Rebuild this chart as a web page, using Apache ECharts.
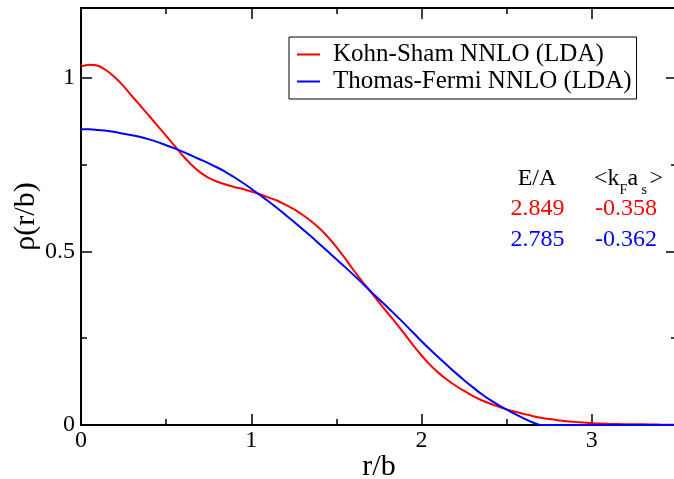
<!DOCTYPE html>
<html>
<head>
<meta charset="utf-8">
<script src="https://cdn.jsdelivr.net/npm/echarts@6/dist/echarts.min.js"></script>
<style>
html,body{margin:0;padding:0;background:#fff;}
#chart{width:674px;height:479px;}
</style>
</head>
<body>
<div id="chart"></div>
<script>
// r/b sample positions
var rGrid = [0.00,0.05,0.10,0.15,0.20,0.25,0.30,0.35,0.40,0.45,
             0.50,0.55,0.60,0.65,0.70,0.75,0.80,0.85,0.90,0.95,
             1.00,1.05,1.10,1.15,1.20,1.25,1.30,1.35,1.40,1.45,
             1.50,1.55,1.60,1.65,1.70,1.75,1.80,1.85,1.90,1.95,
             2.00,2.05,2.10,2.15,2.20,2.25,2.30,2.35,2.40,2.45,
             2.50,2.55,2.60,2.65,2.70,2.75,2.80,2.85,2.90,2.95,
             3.00,3.10,3.20,3.30,3.40,3.50];
// Kohn-Sham NNLO (LDA)
var ksDensity = [1.032,1.037,1.034,1.020,1.000,0.975,0.946,0.918,0.890,0.861,
                 0.832,0.803,0.774,0.748,0.727,0.711,0.700,0.692,0.685,0.679,
                 0.672,0.664,0.655,0.646,0.634,0.621,0.605,0.587,0.566,0.541,
                 0.512,0.480,0.446,0.414,0.384,0.353,0.323,0.293,0.262,0.230,
                 0.200,0.173,0.150,0.130,0.113,0.098,0.084,0.072,0.062,0.053,
                 0.045,0.038,0.032,0.026,0.021,0.017,0.014,0.011,0.009,0.007,
                 0.005,0.0035,0.0025,0.0018,0.0012,0.0008];
// Thomas-Fermi NNLO (LDA)
var tfDensity = [0.851,0.851,0.849,0.847,0.843,0.838,0.834,0.829,0.822,0.814,
                 0.805,0.796,0.786,0.775,0.764,0.753,0.741,0.728,0.713,0.697,
                 0.680,0.662,0.644,0.625,0.605,0.585,0.564,0.543,0.521,0.499,
                 0.477,0.455,0.432,0.409,0.385,0.362,0.339,0.315,0.291,0.266,
                 0.241,0.217,0.194,0.172,0.150,0.129,0.109,0.090,0.073,0.058,
                 0.044,0.031,0.019,0.008,0.000,0.000,0.000,0.000,0.000,0.000,
                 0.000,0.000,0.000,0.000,0.000,0.000];
var seriesNames = ['Kohn-Sham NNLO (LDA)', 'Thomas-Fermi NNLO (LDA)'];
var seriesColors = ['#ff0000', '#0000ff'];
// annotation table
var tableHeader = ['E/A'];
var energyPerParticle = ['2.849', '2.785'];
var kfasValues = ['-0.358', '-0.362'];

function pairs(xs, ys){ return xs.map(function(x,i){ return [x, ys[i]]; }); }

var FONT = '"Liberation Serif", "Times New Roman", serif';
var chart = echarts.init(document.getElementById('chart'), null, {renderer:'canvas'});

function axisCommon(showLabel, step){
  return {
    axisLine:{show:true, onZero:false, lineStyle:{color:'#000', width:2}},
    axisTick:{show:true, inside:true, length:11, lineStyle:{color:'#000', width:1.5}},
    minorTick:{show:true, splitNumber:2, length:6, lineStyle:{color:'#000', width:1.5}},
    splitLine:{show:false},
    minorSplitLine:{show:false},
    axisLabel:{show:showLabel, color:'#000', fontFamily:FONT, fontSize:24,
      showMaxLabel:false,
      formatter:function(v){
        var k = v / step;
        return Math.abs(k - Math.round(k)) < 1e-6 ? String(+v.toFixed(2)) : '';
      }}
  };
}

var xBottom = Object.assign(axisCommon(true, 1), {
  type:'value', position:'bottom', min:0, max:3.5, interval:1,
  name:'r/b', nameLocation:'middle', nameGap:27, nameMoveOverlap:false,
  nameTextStyle:{color:'#000', fontFamily:FONT, fontSize:30}
});
xBottom.axisLabel.margin = 4;
var xTop = Object.assign(axisCommon(false, 1), {
  type:'value', position:'top', min:0, max:3.5, interval:1
});
var yLeft = Object.assign(axisCommon(true, 0.5), {
  type:'value', position:'left', min:0, max:1.2, interval:0.5,
  name:'ρ(r/b)', nameLocation:'middle', nameGap:40, nameMoveOverlap:false,
  nameTextStyle:{color:'#000', fontFamily:FONT, fontSize:30}
});
yLeft.axisLabel.margin = 6;
var yRight = Object.assign(axisCommon(false, 0.5), {
  type:'value', position:'right', min:0, max:1.2, interval:0.5
});

var textItems = [];
function addText(txt, x, y, color, size, align){
  textItems.push({type:'text', x:x, y:y, z:100,
    style:{text:txt, fill:color, font: size+'px '+FONT, textAlign:align||'center', textVerticalAlign:'middle'}});
}
addText(tableHeader[0], 537, 179, '#000', 24);
addText(energyPerParticle[0], 537.5, 209, seriesColors[0], 24);
addText(energyPerParticle[1], 537.5, 240, seriesColors[1], 24);
addText(kfasValues[0], 626, 209, seriesColors[0], 24);
addText(kfasValues[1], 626, 240, seriesColors[1], 24);
// <k_F a_s>
addText('<k', 594, 179, '#000', 24, 'left');
addText('F', 619.5, 190, '#000', 14, 'left');
addText('a', 627.5, 179, '#000', 24, 'left');
addText('s', 641.5, 190, '#000', 14, 'left');
addText('>', 649.5, 179, '#000', 24, 'left');

chart.setOption({
  animation:false,
  backgroundColor:'#fff',
  grid:{left:81, right:-3, top:8, bottom:54, containLabel:false, outerBoundsMode:'none'},
  xAxis:[xBottom, xTop],
  yAxis:[yLeft, yRight],
  legend:{
    show:true, orient:'vertical', left:289, top:37,
    data:seriesNames,
    icon:'rect', itemWidth:23, itemHeight:2, itemGap:2,
    padding:[5,5,5,8],
    borderColor:'#000', borderWidth:1, backgroundColor:'#fff',
    textStyle:{color:'#000', fontFamily:FONT, fontSize:25, padding:[0,0,0,8]}
  },
  graphic: textItems,
  series:[
    {name:seriesNames[0], type:'line', xAxisIndex:0, yAxisIndex:0, data:pairs(rGrid, ksDensity),
     showSymbol:false, symbol:'none', smooth:0.3, clip:true,
     lineStyle:{color:seriesColors[0], width:2}, itemStyle:{color:seriesColors[0]}},
    {name:seriesNames[1], type:'line', xAxisIndex:0, yAxisIndex:0, data:pairs(rGrid, tfDensity),
     showSymbol:false, symbol:'none', smooth:0.3, clip:true,
     lineStyle:{color:seriesColors[1], width:2}, itemStyle:{color:seriesColors[1]}}
  ]
});
</script>
</body>
</html>
